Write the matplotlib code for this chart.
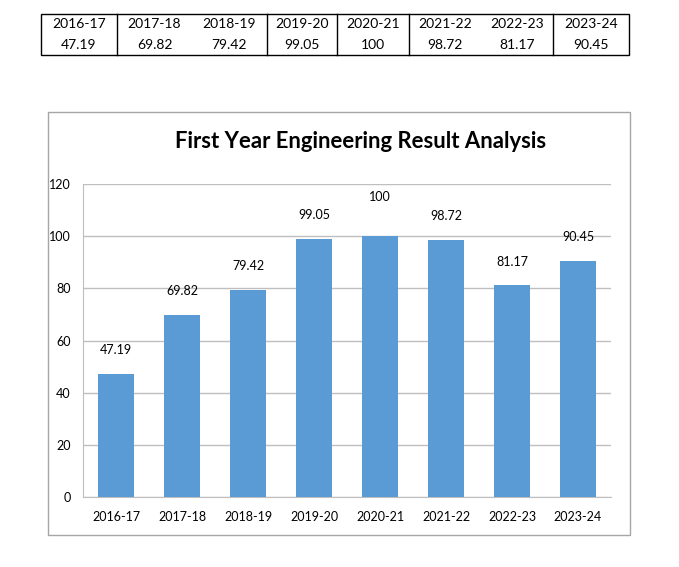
import numpy as np
from matplotlib import pyplot as plt
from matplotlib.patches import Rectangle

years = ['2016-17', '2017-18', '2018-19', '2019-20', '2020-21', '2021-22', '2022-23', '2023-24']
results = [47.19, 69.82, 79.42, 99.05, 100, 98.72, 81.17, 90.45]
y_ticks = [0, 20, 40, 60, 80, 100, 120]

plt.rcParams['font.family'] = ['Lato', 'DejaVu Sans']

W, H = 679, 567
fig = plt.figure(figsize=(W / 100, H / 100), dpi=100)

# overlay axes in pixel coords (y downward) for the table and the chart frame
ov = fig.add_axes([0, 0, 1, 1])
ov.set_xlim(0, W)
ov.set_ylim(H, 0)
ov.axis('off')

# table at the top: cells, two of them hold two years each
cell_edges = [41, 117, 267, 337, 409, 553, 629]
groups = [[0], [1, 2], [3], [4], [5, 6], [7]]
top, bot = 14, 55
ov.add_patch(Rectangle((cell_edges[0], top), cell_edges[-1] - cell_edges[0], bot - top,
                       fill=False, ec='black', lw=1))
for e in cell_edges[1:-1]:
  ov.plot([e, e], [top, bot], color='black', lw=1)
for c, g in enumerate(groups):
  l, r = cell_edges[c], cell_edges[c + 1]
  for k, i in enumerate(g):
    xc = l + (r - l) * (2 * k + 1) / (2 * len(g))
    ov.text(xc, 24, years[i], ha='center', va='center', fontsize=10)
    ov.text(xc, 45, f'{results[i]:g}', ha='center', va='center', fontsize=10)

# chart frame
ov.add_patch(Rectangle((48, 112), 630 - 48, 535 - 112, fill=False, ec='#A6A6A6', lw=1))
ov.text(361, 141, 'First Year Engineering Result Analysis', ha='center', va='center',
        fontsize=15.9, fontweight='bold')

# the bar chart itself
ax = fig.add_axes([83 / W, 1 - 497 / H, (611 - 83) / W, (497 - 184) / H])
x = np.arange(len(years))
bars = ax.bar(x, results, width=0.56, color='#5B9BD5', zorder=3)
for b, v in zip(bars, results):
  lift = 28 if v == max(results) else 17
  ax.annotate(f'{v:g}', (b.get_x() + b.get_width() / 2, v), xytext=(0, lift),
              textcoords='offset points', ha='center', va='center', fontsize=9)

ax.set_xlim(-0.5, len(years) - 0.5)
ax.set_ylim(0, 120)
ax.set_yticks(y_ticks)
ax.set_xticks(x)
ax.set_xticklabels(years)
ax.tick_params(axis='both', length=0, labelsize=9)
ax.tick_params(axis='y', pad=9)
ax.tick_params(axis='x', pad=10)
ax.grid(axis='y', color='#BFBFBF', lw=1, zorder=0)
for s in ['top', 'right']:
  ax.spines[s].set_visible(False)
for s in ['left', 'bottom']:
  ax.spines[s].set_color('#BFBFBF')

fig.savefig('out.png', dpi=100)
